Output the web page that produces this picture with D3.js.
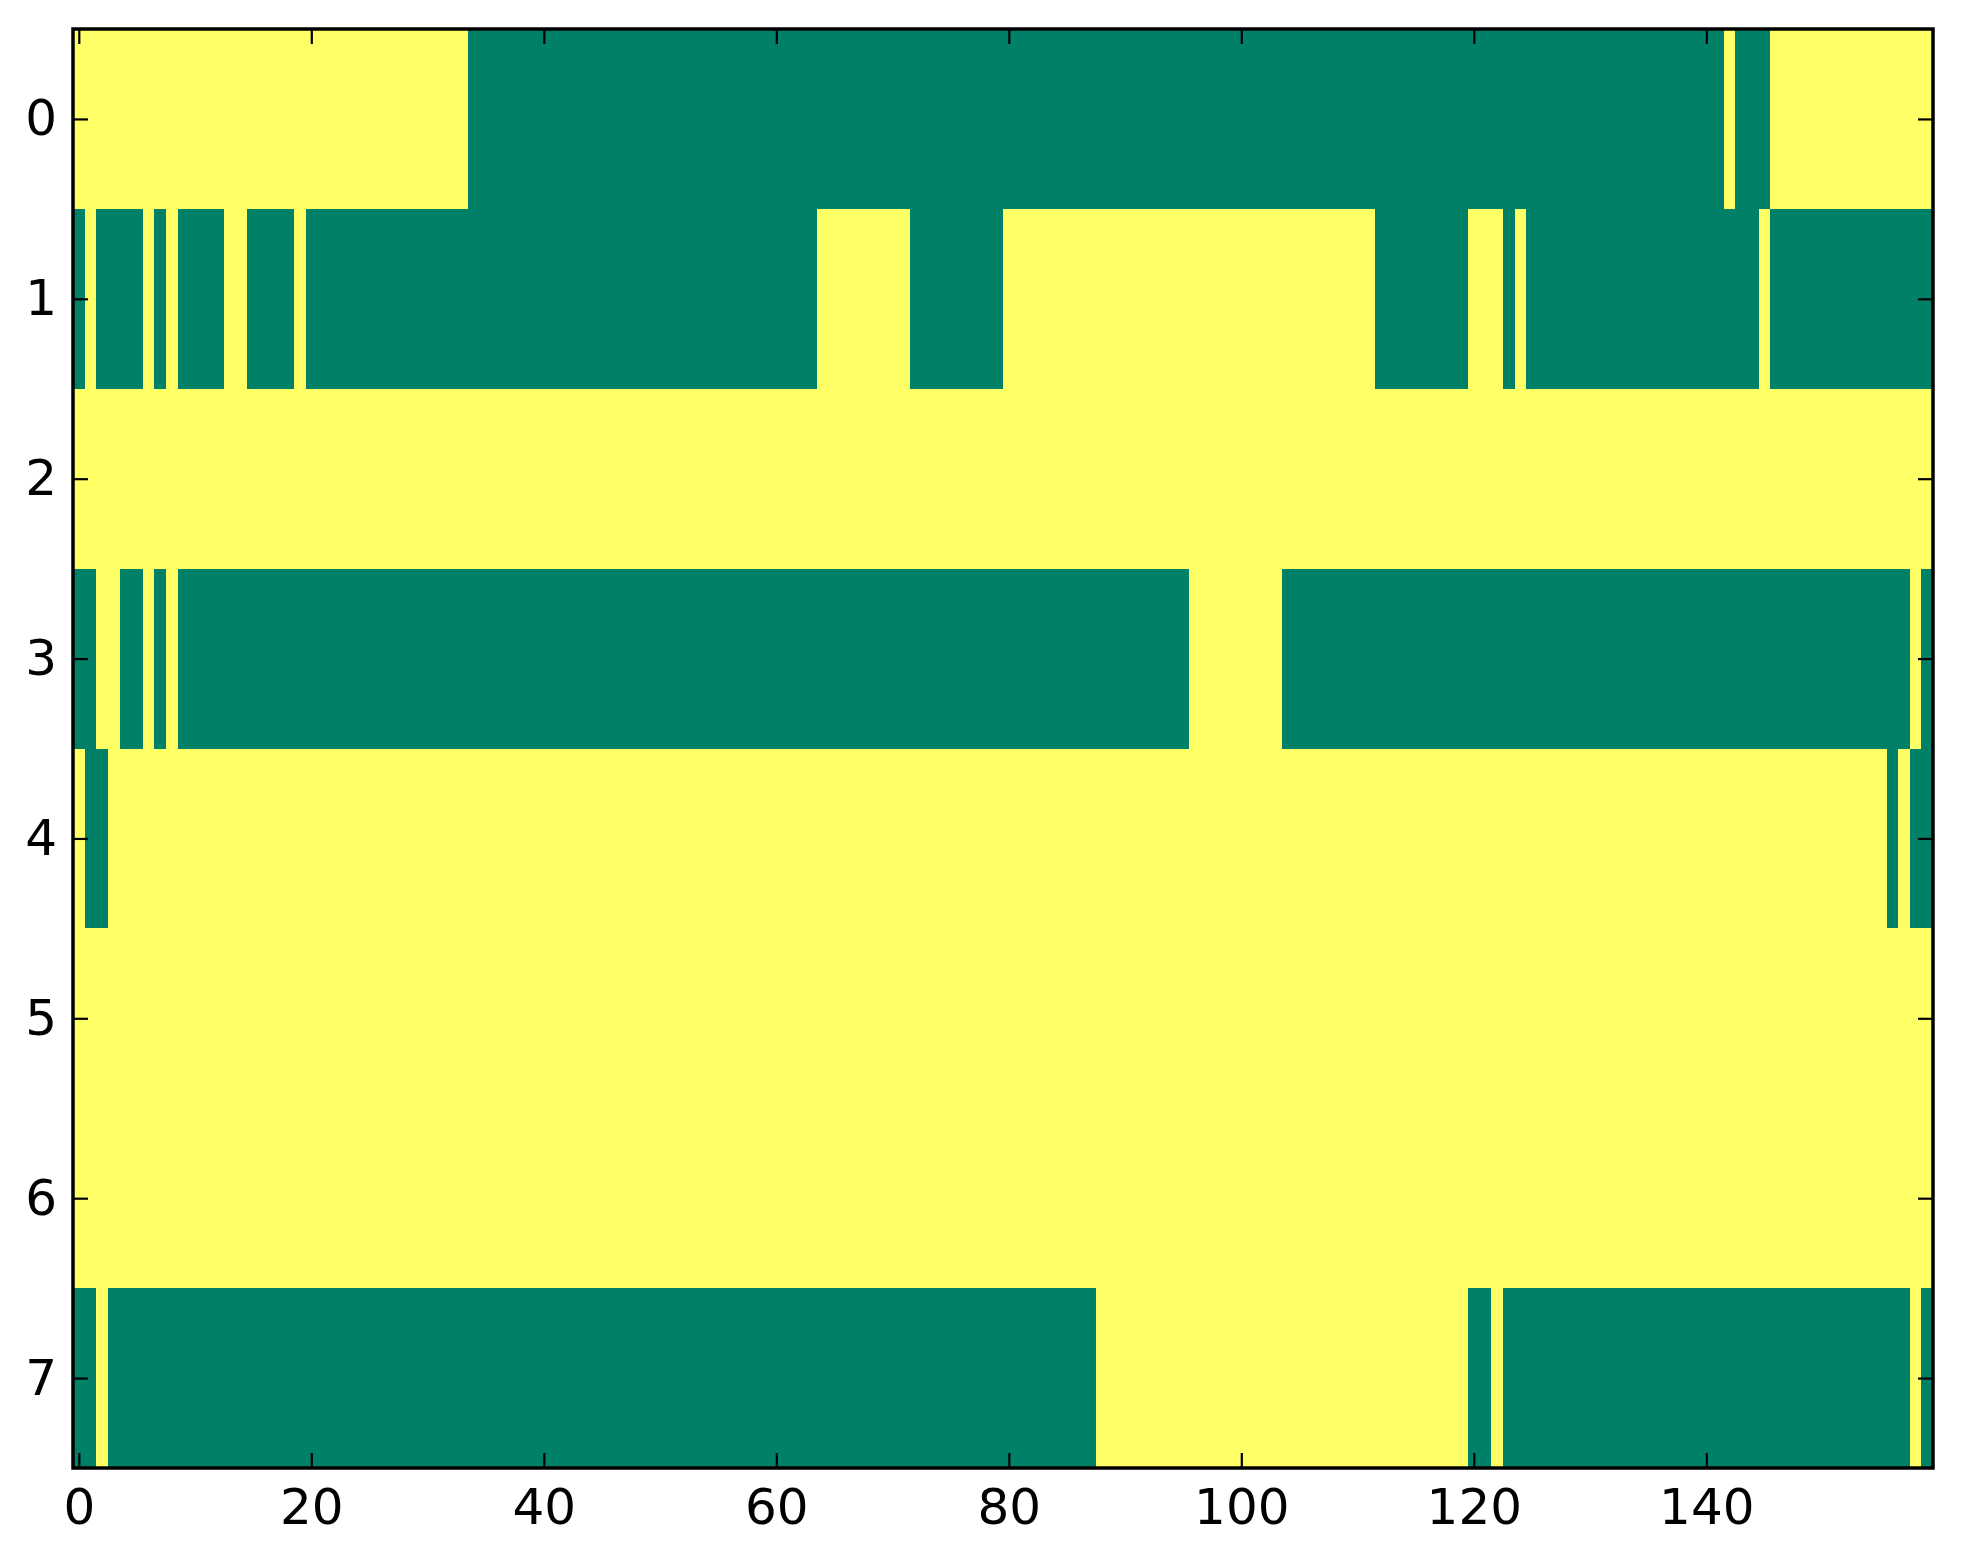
<!DOCTYPE html>
<html>
<head>
<meta charset="utf-8">
<script src="https://cdn.jsdelivr.net/npm/d3@7"></script>
<style>
  html, body { margin: 0; padding: 0; background: #ffffff; }
  svg { display: block; }
  .tick text { font-family: "DejaVu Sans", sans-serif; }
</style>
</head>
<body>
<svg id="chart" width="1963" height="1564"></svg>
<script>
// ---- data (1 = yellow / high, 0 = green / low), columns grouped by 10 ----
const rowLabels = [0, 1, 2, 3, 4, 5, 6, 7];
const xTickValues = [0, 20, 40, 60, 80, 100, 120, 140];
const nCols = 160;

const row0 = "1111111111 1111111111 1111111111 1111000000 0000000000 0000000000 0000000000 0000000000 0000000000 0000000000 0000000000 0000000000 0000000000 0000000000 0010001111 1111111111";
const row1 = "0100001010 0001100001 0000000000 0000000000 0000000000 0000000000 0000111111 1100000000 1111111111 1111111111 1111111111 1100000000 1110100000 0000000000 0000010000 0000000000";
const row2 = "1111111111 1111111111 1111111111 1111111111 1111111111 1111111111 1111111111 1111111111 1111111111 1111111111 1111111111 1111111111 1111111111 1111111111 1111111111 1111111111";
const row3 = "0011001010 0000000000 0000000000 0000000000 0000000000 0000000000 0000000000 0000000000 0000000000 0000001111 1111000000 0000000000 0000000000 0000000000 0000000000 0000000010";
const row4 = "1001111111 1111111111 1111111111 1111111111 1111111111 1111111111 1111111111 1111111111 1111111111 1111111111 1111111111 1111111111 1111111111 1111111111 1111111111 1111110100";
const row5 = "1111111111 1111111111 1111111111 1111111111 1111111111 1111111111 1111111111 1111111111 1111111111 1111111111 1111111111 1111111111 1111111111 1111111111 1111111111 1111111111";
const row6 = "1111111111 1111111111 1111111111 1111111111 1111111111 1111111111 1111111111 1111111111 1111111111 1111111111 1111111111 1111111111 1111111111 1111111111 1111111111 1111111111";
const row7 = "0010000000 0000000000 0000000000 0000000000 0000000000 0000000000 0000000000 0000000000 0000000011 1111111111 1111111111 1111111111 0010000000 0000000000 0000000000 0000000010";

const rowStrings = [row0, row1, row2, row3, row4, row5, row6, row7];

(function () {
  // ---- build cells ----
  const cells = [];
  rowStrings.forEach((s, r) => {
    const bits = s.replace(/\s+/g, "");
    for (let c = 0; c < bits.length; c++) {
      cells.push({ row: rowLabels[r], col: c, v: +bits[c] });
    }
  });

  // ---- layout ----
  const plotLeft = 73, plotRight = 1933, plotTop = 29, plotBottom = 1468;
  const svg = d3.select("#chart");

  const x = d3.scaleLinear().domain([-0.5, nCols - 0.5]).range([plotLeft, plotRight]);
  const y = d3.scaleLinear().domain([-0.5, rowLabels.length - 0.5]).range([plotTop, plotBottom]);
  const color = d3.scaleOrdinal().domain([0, 1]).range(["#008066", "#ffff66"]);

  svg.append("g")
    .attr("shape-rendering", "crispEdges")
    .selectAll("rect")
    .data(cells)
    .join("rect")
    .attr("x", d => x(d.col - 0.5))
    .attr("y", d => y(d.row - 0.5))
    .attr("width", d => x(d.col + 0.5) - x(d.col - 0.5) + 0.6)
    .attr("height", d => y(d.row + 0.5) - y(d.row - 0.5) + 0.6)
    .attr("fill", d => color(d.v));

  // ---- axes (ticks inside, on all four sides) ----
  const fontSize = 50;
  const tickLen = 15;

  function styleAxis(g) {
    g.select(".domain").remove();
    g.selectAll(".tick line").attr("stroke", "#000").attr("stroke-width", 2.2);
    g.selectAll(".tick text").attr("font-size", fontSize).attr("fill", "#000");
  }

  svg.append("g")
    .attr("transform", `translate(0,${plotBottom})`)
    .call(d3.axisBottom(x).tickValues(xTickValues).tickSizeInner(-tickLen).tickSizeOuter(0).tickPadding(20).tickFormat(d3.format("d")))
    .call(styleAxis);

  svg.append("g")
    .attr("transform", `translate(0,${plotTop})`)
    .call(d3.axisTop(x).tickValues(xTickValues).tickSizeInner(-tickLen).tickSizeOuter(0).tickFormat(""))
    .call(styleAxis);

  svg.append("g")
    .attr("transform", `translate(${plotLeft},0)`)
    .call(d3.axisLeft(y).tickValues(rowLabels).tickSizeInner(-tickLen).tickSizeOuter(0).tickPadding(16).tickFormat(d3.format("d")))
    .call(styleAxis);

  svg.append("g")
    .attr("transform", `translate(${plotRight},0)`)
    .call(d3.axisRight(y).tickValues(rowLabels).tickSizeInner(-tickLen).tickSizeOuter(0).tickFormat(""))
    .call(styleAxis);

  // ---- frame ----
  svg.append("rect")
    .attr("x", plotLeft).attr("y", plotTop)
    .attr("width", plotRight - plotLeft).attr("height", plotBottom - plotTop)
    .attr("fill", "none").attr("stroke", "#000").attr("stroke-width", 3.5);
})();
</script>
</body>
</html>
